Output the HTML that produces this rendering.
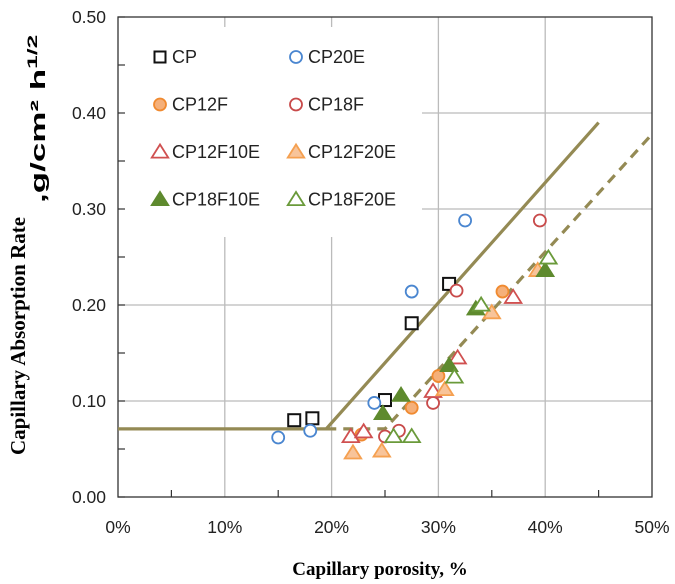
<!DOCTYPE html>
<html><head><meta charset="utf-8">
<style>
html,body{margin:0;padding:0;background:#fff;}
svg{display:block;}
.tick{font-family:"Liberation Sans",sans-serif;font-size:17.5px;fill:#222;}
.leg{font-family:"Liberation Sans",sans-serif;font-size:18px;fill:#222;}
</style></head>
<body>
<svg id="chart" width="675" height="584" xmlns="http://www.w3.org/2000/svg">
<text x="380" y="575" text-anchor="middle" font-family="Liberation Serif,serif" font-weight="bold" font-size="19">Capillary porosity, %</text>
<text transform="translate(25,455) rotate(-90)" font-family="Liberation Serif,serif" font-weight="bold" font-size="21">Capillary Absorption Rate</text>
<text transform="translate(45,203) rotate(-90) scale(1.75,1)" font-family="Liberation Sans,sans-serif" font-weight="bold" font-size="20">,g/cm² h<tspan font-size="14" dy="-8">1/2</tspan></text>
</svg>
<script>
const xTicks=[0,10,20,30,40,50];
const xTickLabels=["0%","10%","20%","30%","40%","50%"];
const yTicks=[0,0.1,0.2,0.3,0.4,0.5];
const yTickLabels=["0.00","0.10","0.20","0.30","0.40","0.50"];
const seriesNames=["CP","CP20E","CP12F","CP18F","CP12F10E","CP12F20E","CP18F10E","CP18F20E"];
const cpX=[16.5,18.2,25,27.5,31];
const cpY=[0.080,0.082,0.101,0.181,0.222];
const cp20eX=[15,18,24,27.5,32.5];
const cp20eY=[0.062,0.069,0.098,0.214,0.288];
const cp12fX=[22.8,27.5,30,36];
const cp12fY=[0.065,0.093,0.126,0.214];
const cp18fX=[25,26.3,29.5,31.7,39.5];
const cp18fY=[0.063,0.069,0.098,0.215,0.288];
const cp12f10eX=[21.8,23,29.5,31.8,37];
const cp12f10eY=[0.063,0.068,0.110,0.145,0.208];
const cp12f20eX=[22,24.7,30.6,35,39.3];
const cp12f20eY=[0.046,0.048,0.112,0.192,0.236];
const cp18f10eX=[24.8,26.5,31,33.5,40];
const cp18f10eY=[0.087,0.106,0.137,0.196,0.236];
const cp18f20eX=[25.8,27.5,31.5,34,40.3];
const cp18f20eY=[0.063,0.063,0.125,0.200,0.249];
const solidLineX=[0,19.5,45];
const solidLineY=[0.071,0.071,0.390];
const dashedLineX=[19.5,25,50];
const dashedLineY=[0.071,0.071,0.378];

const L=118,R=652,T=17,B=497;
const sx=v=>L+(v/50)*(R-L);
const sy=v=>B-(v/0.5)*(B-T);
const svg=document.getElementById('chart');
const NS="http://www.w3.org/2000/svg";
function mk(tag,at){const e=document.createElementNS(NS,tag);for(const k in at)e.setAttribute(k,at[k]);svg.appendChild(e);return e;}

xTicks.forEach((t,i)=>{if(i>0&&i<xTicks.length-1){const g=mk('line',{x1:sx(t),x2:sx(t),y1:T,y2:B,stroke:'#bbb','stroke-width':1.3});

}});
yTicks.forEach((t,i)=>{if(i>0&&i<yTicks.length-1){const g=mk('line',{x1:L,x2:R,y1:sy(t),y2:sy(t),stroke:'#bbb','stroke-width':1.3});

}});
const lb=mk('rect',{x:L+2,y:T+10,width:302,height:210,fill:'#fff'});


const fr=mk('rect',{x:L,y:T,width:R-L,height:B-T,fill:'none',stroke:'#333','stroke-width':1.3});


for(let v=0;v<=50;v+=5){const t=mk('line',{x1:sx(v),x2:sx(v),y1:B,y2:B-(v%10===0?0:7),stroke:'#333','stroke-width':1.2});

}
for(let v=0;v<=0.5001;v+=0.05){const t=mk('line',{x1:L,x2:L+7,y1:sy(v),y2:sy(v),stroke:'#333','stroke-width':1.2});

}
xTicks.forEach((t,i)=>{const e=mk('text',{x:sx(t),y:B+36,'text-anchor':'middle',class:'tick'});e.textContent=xTickLabels[i];

});
yTicks.forEach((t,i)=>{const e=mk('text',{x:L-12,y:sy(t)+6,'text-anchor':'end',class:'tick'});e.textContent=yTickLabels[i];

});

const lc='#948a54';
const sl=mk('polyline',{points:solidLineX.map((x,i)=>sx(x)+','+sy(solidLineY[i])).join(' '),fill:'none',stroke:lc,'stroke-width':3.2});


const dl=mk('polyline',{points:dashedLineX.map((x,i)=>sx(x)+','+sy(dashedLineY[i])).join(' '),fill:'none',stroke:lc,'stroke-width':3.2,'stroke-dasharray':'10,7'});



const styles={
 CP:{s:'sq',f:'#fff',c:'#111'},
 CP20E:{s:'ci',f:'#fff',c:'#4a86d0'},
 CP12F:{s:'ci',f:'#f5b07a',c:'#f08a30'},
 CP18F:{s:'ci',f:'#fff',c:'#c84a4a'},
 CP12F10E:{s:'tr',f:'#fff',c:'#d05050'},
 CP12F20E:{s:'tr',f:'#f8c49a',c:'#f5a050'},
 CP18F10E:{s:'tr',f:'#5e8a2e',c:'#5e8a2e'},
 CP18F20E:{s:'tr',f:'#fff',c:'#6a9a3a'}
};
function marker(name,x,y,sz){const st=styles[name];let e;
 if(st.s==='sq'){e=mk('rect',{x:x-sz,y:y-sz,width:2*sz,height:2*sz,fill:st.f,stroke:st.c,'stroke-width':2});}
 else if(st.s==='ci'){e=mk('circle',{cx:x,cy:y,r:sz,fill:st.f,stroke:st.c,'stroke-width':1.8});}
 else{const h=sz*1.25;e=mk('polygon',{points:`${x},${y-h} ${x-h*1.1},${y+h*0.75} ${x+h*1.1},${y+h*0.75}`,fill:st.f,stroke:st.c,'stroke-width':1.8});}
 return e;}
const data=[[cpX,cpY],[cp20eX,cp20eY],[cp12fX,cp12fY],[cp18fX,cp18fY],[cp12f10eX,cp12f10eY],[cp12f20eX,cp12f20eY],[cp18f10eX,cp18f10eY],[cp18f20eX,cp18f20eY]];
data.forEach((d,si)=>{d[0].forEach((x,i)=>{const e=marker(seriesNames[si],sx(x),sy(d[1][i]),6);
 
 });});

seriesNames.forEach((n,i)=>{const col=i%2,row=Math.floor(i/2);
 const mx=col?296:160,my=57+row*47.5;
 const m=marker(n,mx,my,col||styles[n].s!=='sq'?6:5.5);
 
 
 const t=mk('text',{x:mx+12,y:my+6,class:'leg'});t.textContent=n;
 
 });
</script>
</body></html>
